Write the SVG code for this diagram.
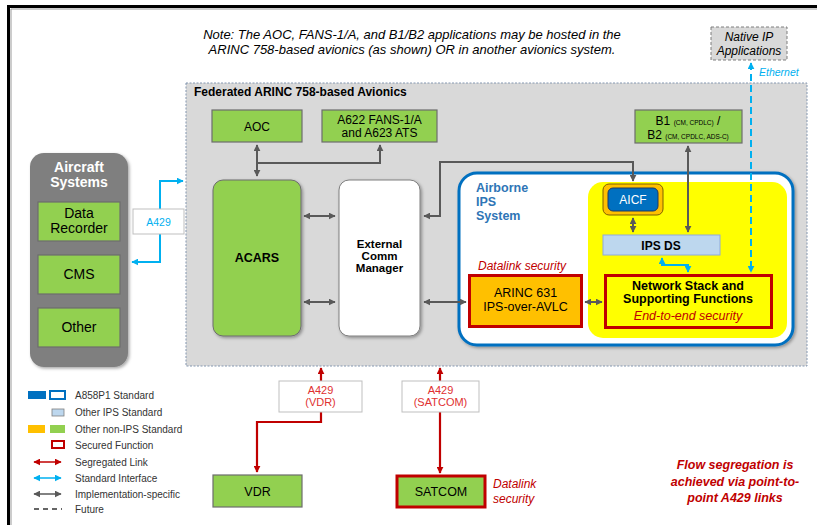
<svg xmlns="http://www.w3.org/2000/svg" width="817" height="525" viewBox="0 0 817 525">
<style>
text{font-family:"Liberation Sans",Arial,sans-serif;fill:#000}
.g{fill:#92d050;stroke:#6d6d6d;stroke-width:1.2}
.c{text-anchor:middle}
.b{font-weight:bold}
.i{font-style:italic}
.red{fill:#c00000}
.lg{font-size:10px;fill:#333}
.ln{fill:none;stroke:#595959;stroke-width:2}
.lr{fill:none;stroke:#c00000;stroke-width:2.2}
.lb{fill:none;stroke:#00b0f0;stroke-width:2}
</style>
<defs>
<marker id="ag" viewBox="0 0 10 10" refX="9" refY="5" markerWidth="7" markerHeight="7" markerUnits="userSpaceOnUse" orient="auto-start-reverse"><path d="M0,0L10,5L0,10z" fill="#595959"/></marker>
<marker id="ar" viewBox="0 0 10 10" refX="9" refY="5" markerWidth="7" markerHeight="7" markerUnits="userSpaceOnUse" orient="auto-start-reverse"><path d="M0,0L10,5L0,10z" fill="#c00000"/></marker>
<marker id="ab" viewBox="0 0 10 10" refX="9" refY="5" markerWidth="7" markerHeight="7" markerUnits="userSpaceOnUse" orient="auto-start-reverse"><path d="M0,0L10,5L0,10z" fill="#00b0f0"/></marker>
<filter id="sh" x="-10%" y="-10%" width="130%" height="130%"><feDropShadow dx="1.5" dy="1.5" stdDeviation="1.5" flood-color="#000" flood-opacity="0.35"/></filter>
</defs>

<rect width="817" height="525" fill="#fff"/>
<path d="M8.5,525V6.5H817" fill="none" stroke="#000" stroke-width="3"/>
<path d="M11,525V9H817" fill="none" stroke="#999" stroke-width="1"/>

<g id="note">
<text class="c i" x="412" y="39" font-size="13" fill="#222">Note:  The AOC, FANS-1/A, and B1/B2 applications may be hosted in the</text>
<text class="c i" x="412" y="54" font-size="13" fill="#222">ARINC 758-based avionics (as shown) OR in another avionics system.</text>
</g>

<g id="native-ip">
<rect x="711" y="27" width="76" height="33" fill="#d9d9d9" stroke="#7f7f7f" stroke-dasharray="3,2"/>
<text class="c i" x="749" y="41" font-size="12">Native IP</text>
<text class="c i" x="749" y="55" font-size="12">Applications</text>
</g>

<g id="federated">
<rect x="186" y="83" width="621" height="283" fill="#d9d9d9" stroke="#8497b0" stroke-dasharray="2,1.5"/>
<text class="b" x="194" y="96" font-size="12">Federated ARINC 758-based Avionics</text>
</g>

<g id="aircraft-systems">
<rect x="30" y="153" width="98" height="214" rx="14" fill="#7f7f7f" filter="url(#sh)"/>
<text class="c b" x="79" y="172" font-size="14" style="fill:#fff">Aircraft</text>
<text class="c b" x="79" y="187" font-size="14" style="fill:#fff">Systems</text>
</g>
<g id="data-recorder">
<rect class="g" x="38" y="202" width="82" height="39"/>
<text class="c" x="79" y="218" font-size="14">Data</text>
<text class="c" x="79" y="233" font-size="14">Recorder</text>
</g>
<g id="cms">
<rect class="g" x="38" y="255" width="82" height="39"/>
<text class="c" x="79" y="279" font-size="14">CMS</text>
</g>
<g id="other">
<rect class="g" x="38" y="308" width="82" height="39"/>
<text class="c" x="79" y="332" font-size="14">Other</text>
</g>

<g id="aoc">
<rect class="g" x="212" y="110" width="90" height="32"/>
<text class="c" x="257" y="131" font-size="12">AOC</text>
</g>
<g id="a622">
<rect class="g" x="322" y="110" width="115" height="32"/>
<text class="c" x="379.5" y="124" font-size="12">A622 FANS-1/A</text>
<text class="c" x="379.5" y="137" font-size="12">and A623 ATS</text>
</g>
<g id="b1b2">
<rect class="g" x="635" y="110" width="107" height="33"/>
<text class="c" x="688" y="125" font-size="12">B1 <tspan font-size="6.5">(CM, CPDLC)</tspan> /</text>
<text class="c" x="688" y="139" font-size="12">B2 <tspan font-size="6.5">(CM, CPDLC, ADS-C)</tspan></text>
</g>

<g id="acars">
<rect x="213" y="180" width="88" height="156" rx="10" fill="#92d050" stroke="#6d6d6d" filter="url(#sh)"/>
<text class="c b" x="257" y="262" font-size="12.5">ACARS</text>
</g>
<g id="ecm">
<rect x="339" y="180" width="81" height="156" rx="10" fill="#fff" stroke="#7f7f7f" filter="url(#sh)"/>
<text class="c b" x="379.5" y="248" font-size="11.5">External</text>
<text class="c b" x="379.5" y="260" font-size="11.5">Comm</text>
<text class="c b" x="379.5" y="272" font-size="11.5">Manager</text>
</g>

<g id="airborne-ips">
<rect x="459" y="173" width="334" height="172" rx="18" fill="#fff" stroke="#0070c0" stroke-width="3" filter="url(#sh)"/>
<text class="b" x="476" y="192" font-size="12.5" style="fill:#2e75b6">Airborne</text>
<text class="b" x="476" y="206" font-size="12.5" style="fill:#2e75b6">IPS</text>
<text class="b" x="476" y="220" font-size="12.5" style="fill:#2e75b6">System</text>
<rect x="588" y="182" width="199" height="156" rx="15" fill="#ffff00"/>
</g>

<g id="aicf">
<rect x="603" y="184" width="60" height="31" rx="6" fill="#ffc000" stroke="#7f6000" stroke-width="1"/>
<rect x="608" y="188" width="50" height="23" rx="5" fill="#0070c0" stroke="#1f3864" stroke-width="1"/>
<text class="c" x="633" y="204" font-size="12" style="fill:#fff">AICF</text>
</g>
<g id="ips-ds">
<rect x="603" y="235" width="117" height="20" fill="#bdd7ee" stroke="#8faadc"/>
<text class="c b" x="661" y="250" font-size="12">IPS DS</text>
</g>
<g id="network-stack">
<rect x="605.5" y="275.5" width="166" height="52" fill="#ffff00" stroke="#c00000" stroke-width="3"/>
<text class="c b" x="688" y="290" font-size="12.5">Network Stack and</text>
<text class="c b" x="688" y="303" font-size="12.5">Supporting Functions</text>
<text class="c i red" x="688" y="320" font-size="12.5">End-to-end security</text>
</g>
<g id="arinc631">
<text class="i red" x="478" y="270" font-size="12">Datalink security</text>
<rect x="469.5" y="275.5" width="112" height="51" fill="#ffc000" stroke="#c00000" stroke-width="3"/>
<text class="c" x="525.5" y="297" font-size="12.5">ARINC 631</text>
<text class="c" x="525.5" y="311" font-size="12.5">IPS-over-AVLC</text>
</g>

<g id="vdr">
<rect class="g" x="213" y="475" width="89" height="32"/>
<text class="c" x="257.5" y="496" font-size="12.5">VDR</text>
</g>
<g id="satcom">
<rect x="397" y="476" width="88" height="31" fill="#92d050" stroke="#c00000" stroke-width="3"/>
<text class="c" x="441" y="496" font-size="12.5">SATCOM</text>
<text class="i red" x="493" y="488" font-size="12">Datalink</text>
<text class="i red" x="493" y="503" font-size="12">security</text>
</g>

<g id="connectors">
<path class="ln" d="M257,145V176" marker-start="url(#ag)" marker-end="url(#ag)"/>
<path class="ln" d="M257,163H380V145" marker-end="url(#ag)"/>
<path class="ln" d="M304,216H335" marker-start="url(#ag)" marker-end="url(#ag)"/>
<path class="ln" d="M304,302H335" marker-start="url(#ag)" marker-end="url(#ag)"/>
<path class="ln" d="M424,216H440V162H633V181" marker-start="url(#ag)" marker-end="url(#ag)"/>
<path class="ln" d="M424,302H466" marker-start="url(#ag)" marker-end="url(#ag)"/>
<path class="ln" d="M585,302H602" marker-start="url(#ag)" marker-end="url(#ag)"/>
<path class="ln" d="M633,218V232" marker-start="url(#ag)" marker-end="url(#ag)"/>
<path class="ln" d="M688,146V232" marker-start="url(#ag)" marker-end="url(#ag)"/>
<path class="lb" d="M662,258V265H688V272" marker-start="url(#ab)" marker-end="url(#ab)"/>
<path class="lb" d="M751,63V272" stroke-dasharray="7,4" marker-start="url(#ab)" marker-end="url(#ab)"/>
<path class="lb" d="M183,181H160V262H132" marker-start="url(#ab)" marker-end="url(#ab)"/>
<path class="lr" d="M321,368V381M321,412V422H257V472" marker-start="url(#ar)" marker-end="url(#ar)"/>
<path class="lr" d="M440,368V473" marker-start="url(#ar)" marker-end="url(#ar)"/>
</g>

<g id="labels">
<text class="i" x="759" y="76" font-size="10.5" style="fill:#00b0f0">Ethernet</text>
<rect x="133" y="209" width="51" height="25" fill="#fff" stroke="#bfbfbf"/>
<text class="c" x="158.5" y="226" font-size="10.5" style="fill:#00b0f0">A429</text>
<rect x="279" y="381" width="83" height="31" fill="#fff" stroke="#bfbfbf"/>
<text class="c" x="320.5" y="394" font-size="11" style="fill:#e03030">A429</text>
<text class="c" x="320.5" y="406" font-size="11" style="fill:#e03030">(VDR)</text>
<rect x="402" y="381" width="77" height="31" fill="#fff" stroke="#bfbfbf"/>
<text class="c" x="440.5" y="394" font-size="11" style="fill:#e03030">A429</text>
<text class="c" x="440.5" y="406" font-size="11" style="fill:#e03030">(SATCOM)</text>
<text class="c b i red" x="735" y="469" font-size="12.5">Flow segregation is</text>
<text class="c b i red" x="735" y="485.5" font-size="12.5">achieved via point-to-</text>
<text class="c b i red" x="735" y="502" font-size="12.5">point A429 links</text>
</g>

<g id="legend">
<rect x="28" y="391" width="18" height="8" fill="#0070c0"/>
<rect x="50" y="391" width="15" height="8" fill="#fff" stroke="#0070c0" stroke-width="2"/>
<text class="lg" x="75" y="399">A858P1 Standard</text>
<rect x="52" y="409" width="12" height="7" fill="#bdd7ee" stroke="#7f7f7f" stroke-width="0.8"/>
<text class="lg" x="75" y="416">Other IPS Standard</text>
<rect x="28" y="425" width="17" height="8" fill="#ffc000"/>
<rect x="50" y="425" width="15" height="8" fill="#92d050"/>
<text class="lg" x="75" y="433">Other non-IPS Standard</text>
<rect x="52" y="441" width="12" height="7" fill="#fff" stroke="#c00000" stroke-width="2"/>
<text class="lg" x="75" y="449">Secured Function</text>
<path d="M34,462H61" fill="none" stroke="#c00000" stroke-width="1.5" marker-start="url(#ar)" marker-end="url(#ar)"/>
<text class="lg" x="75" y="465.5">Segregated Link</text>
<path d="M34,478H61" fill="none" stroke="#00b0f0" stroke-width="1.5" marker-start="url(#ab)" marker-end="url(#ab)"/>
<text class="lg" x="75" y="481.5">Standard Interface</text>
<path d="M34,494H61" fill="none" stroke="#595959" stroke-width="1.5" marker-start="url(#ag)" marker-end="url(#ag)"/>
<text class="lg" x="75" y="497.5">Implementation-specific</text>
<path d="M34,509H62" fill="none" stroke="#333" stroke-width="1.3" stroke-dasharray="5,4"/>
<text class="lg" x="75" y="512.5">Future</text>
</g>
</svg>
